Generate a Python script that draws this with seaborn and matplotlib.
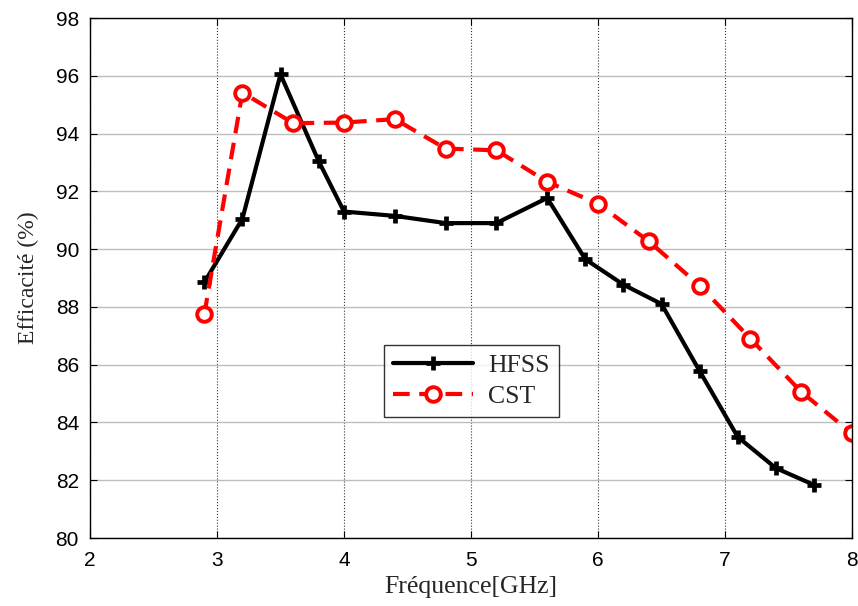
import matplotlib
matplotlib.use("Agg")
import matplotlib.pyplot as plt
import seaborn as sns
import pandas as pd

# Efficiency vs frequency, HFSS and CST simulations
freq_hfss = [2.9, 3.2, 3.5, 3.8, 4.0, 4.4, 4.8, 5.2, 5.6, 5.9, 6.2, 6.5, 6.8, 7.1, 7.4, 7.7]
eff_hfss = [88.85, 91.05, 96.05, 93.05, 91.3, 91.15, 90.9, 90.9, 91.77, 89.65, 88.77, 88.1, 85.78, 83.5, 82.42, 81.84]

freq_cst = [2.9, 3.2, 3.6, 4.0, 4.4, 4.8, 5.2, 5.6, 6.0, 6.4, 6.8, 7.2, 7.6, 8.0]
eff_cst = [87.74, 95.42, 94.36, 94.38, 94.5, 93.48, 93.42, 92.33, 91.57, 90.27, 88.74, 86.9, 85.06, 83.62]

x_ticks = [2, 3, 4, 5, 6, 7, 8]
y_ticks = [80, 82, 84, 86, 88, 90, 92, 94, 96, 98]

df_hfss = pd.DataFrame({"freq": freq_hfss, "eff": eff_hfss})
df_cst = pd.DataFrame({"freq": freq_cst, "eff": eff_cst})

sns.set_style("white")

fig = plt.figure(figsize=(8.58, 6.06), dpi=100)
ax = fig.add_axes([90 / 858, 1 - 538 / 606, (852 - 90) / 858, (538 - 18) / 606])

sns.lineplot(data=df_hfss, x="freq", y="eff", ax=ax, color="black", lw=3.0,
             marker="+", markersize=10, markeredgewidth=3.4,
             markeredgecolor="black", label="HFSS")
sns.lineplot(data=df_cst, x="freq", y="eff", ax=ax, color="red", lw=3.0,
             marker="o", markersize=10.5, markeredgewidth=2.8,
             markerfacecolor="white", markeredgecolor="red", label="CST")
for line in ax.get_lines():
    if line.get_label() == "CST":
        line.set_linestyle((0, (4.0, 2.3)))

ax.set_xlim(2, 8)
ax.set_ylim(80, 98)
ax.set_xticks(x_ticks)
ax.set_yticks(y_ticks)
ax.set_xticklabels([str(t) for t in x_ticks], family="Liberation Sans", fontsize=15)
ax.set_yticklabels([str(t) for t in y_ticks], family="Liberation Sans", fontsize=15)

ax.xaxis.grid(True, ls=":", color="#333333", lw=0.8)
ax.yaxis.grid(True, ls="-", color="#bdbdbd", lw=1.0)
ax.set_axisbelow(True)

ax.tick_params(direction="in", length=5, width=0.8, top=True, right=True,
               bottom=True, left=True, colors="black")
ax.tick_params(axis="y", pad=8)
ax.tick_params(axis="x", pad=9)
for s in ax.spines.values():
    s.set_color("black")
    s.set_linewidth(1.0)
    s.set_visible(True)

ax.set_xlabel("Fréquence[GHz]", family="Liberation Serif", fontsize=18.5, labelpad=5)
ax.set_ylabel("Efficacité (%)", family="Liberation Serif", fontsize=17, labelpad=12)

leg = ax.legend(loc="upper left", bbox_to_anchor=((384 - 90) / 762, 1 - (345 - 18) / 520),
                prop={"family": "Liberation Serif", "size": 18.5}, frameon=True,
                fancybox=False, edgecolor="black", borderpad=0.35, handlelength=3.1,
                labelspacing=0.3, handletextpad=0.6, borderaxespad=0)
leg.get_frame().set_linewidth(1.0)

fig.savefig("out.png", dpi=100)
